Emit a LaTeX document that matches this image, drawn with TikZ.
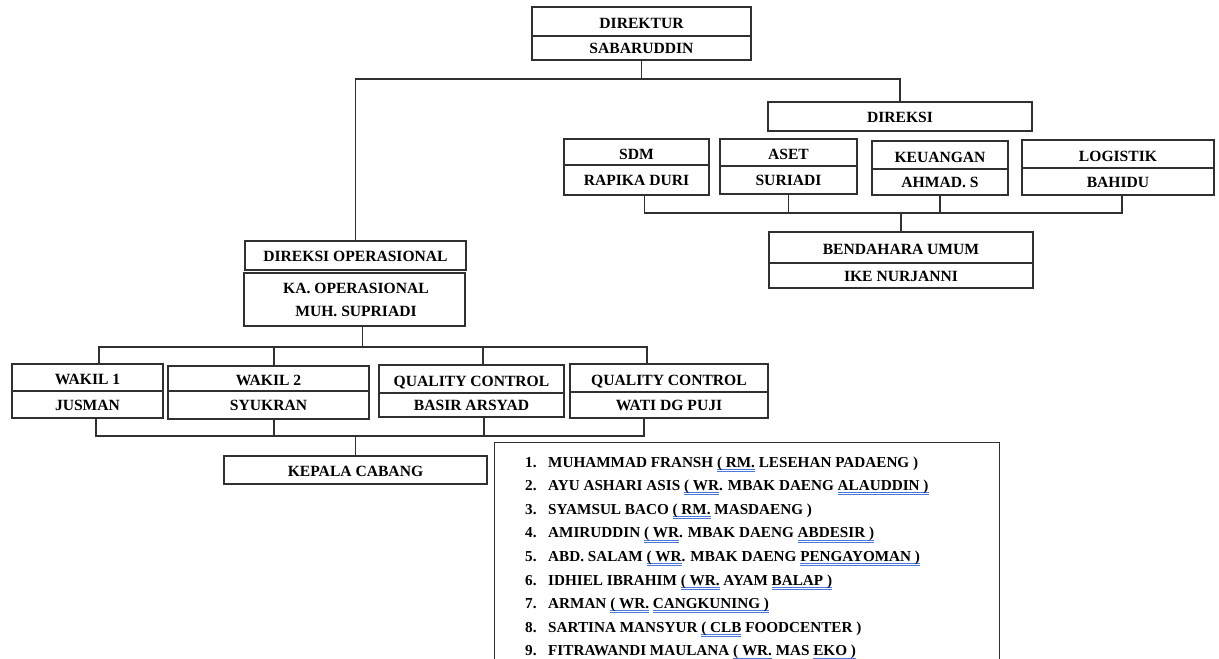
\documentclass[tikz,border=0pt]{standalone}
\usepackage{fontspec}
\setmainfont{Liberation Serif}
\definecolor{ln}{HTML}{303030}
\definecolor{sqblue}{HTML}{4A78D8}
\newsavebox\sqbox
\newcommand\sq[1]{\sbox\sqbox{#1}\rlap{\textcolor{sqblue}{\rule[-2.2pt]{\wd\sqbox}{0.5pt}}}\rlap{\textcolor{sqblue}{\rule[-4.2pt]{\wd\sqbox}{0.5pt}}}\usebox\sqbox}
\tikzset{
  box/.style={draw=ln, line width=1.2pt, inner sep=0pt, fill=white},
  lbl/.style={font=\fontsize{15.6}{18}\selectfont\bfseries, inner sep=0pt, text height=10.3pt, text depth=0pt},
  conn/.style={draw=ln, line width=1.2pt},
  itm/.style={font=\fontsize{15.2}{18}\selectfont\bfseries, inner sep=0pt, anchor=base west},
}
% #1 name, #2 x1, #3 y1, #4 x2, #5 y2, #6 ydiv, #7 top text, #8 bottom text
\newcommand\twobox[8]{%
  \node[box, minimum width={(#4-#2)*1pt}, minimum height={(#5-#3)*1pt}] (#1) at ({(#2+#4)/2},{(#3+#5)/2}) {};
  \draw[conn] (#1.west |- 0,#6) -- (#1.east |- 0,#6);
  \node[lbl] (#1-a) at ({(#2+#4)/2},{(#3+#6)/2+2}) {#7};
  \node[lbl] (#1-b) at ({(#2+#4)/2},{(#6+#5)/2+0.5}) {#8};
}
\newcommand\onebox[6]{%
  \node[box, minimum width={(#4-#2)*1pt}, minimum height={(#5-#3)*1pt}] (#1) at ({(#2+#4)/2},{(#3+#5)/2}) {};
  \node[lbl] (#1-a) at ({(#2+#4)/2},{(#3+#5)/2+1}) {#6};
}
\begin{document}
\begin{tikzpicture}[x=1pt,y=-1pt]
\useasboundingbox (0,0) rectangle (1219,659);

% top
\twobox{dir}{532}{7}{751}{60}{36}{DIREKTUR}{SABARUDDIN}
\onebox{direksi}{768}{102}{1032}{131}{DIREKSI}

% direksi row
\twobox{sdm}{564}{139}{709}{195}{165}{SDM}{RAPIKA DURI}
\twobox{aset}{720}{139}{857}{194}{166}{ASET}{SURIADI}
\twobox{keu}{872}{141}{1008}{195}{169}{KEUANGAN}{AHMAD. S}
\twobox{log}{1022}{140}{1214}{195}{168}{LOGISTIK}{BAHIDU}
\twobox{bend}{769}{232}{1033}{288}{263}{BENDAHARA UMUM}{IKE NURJANNI}

% operasional
\onebox{dirop}{245}{241}{466}{270}{DIREKSI OPERASIONAL}
\node[box, minimum width=221pt, minimum height=53pt] (ka) at (354.5,299.5) {};
\node[lbl] (ka-a) at (356,288) {KA. OPERASIONAL};
\node[lbl] (ka-b) at (356,311.5) {MUH. SUPRIADI};

\twobox{w1}{12}{364}{163}{418}{391}{WAKIL 1}{JUSMAN}
\twobox{w2}{168}{366}{369}{419}{391}{WAKIL 2}{SYUKRAN}
\twobox{qc1}{379}{365}{564}{417}{393}{QUALITY CONTROL}{BASIR ARSYAD}
\twobox{qc2}{570}{364}{768}{418}{392}{QUALITY CONTROL}{WATI DG PUJI}
\onebox{kc}{224}{456}{487}{484}{KEPALA CABANG}

% connectors
\coordinate (j1) at (dir.south |- 0,79);
\draw[conn] (dir.south) -- (j1);
\draw[conn] (dirop.north) |- (j1) -| (direksi.north);

\coordinate (j2) at (bend.north |- 0,213);
\draw[conn] ([xshift=8pt]sdm.south) |- (j2) -| ([xshift=4pt]log.south);
\draw[conn] (aset.south) -- (aset.south |- j2);
\draw[conn] (keu.south) -- (keu.south |- j2);
\draw[conn] (j2) -- (bend.north);

\coordinate (j3) at ([xshift=8pt]ka.south |- 0,347);
\draw[conn] ([xshift=8pt]ka.south) -- (j3);
\draw[conn] ([xshift=11.5pt]w1.north) |- (j3) -| ([xshift=-22pt]qc2.north);
\draw[conn] ([xshift=5.5pt]w2.north) -- ([xshift=5.5pt]w2.north |- j3);
\draw[conn] ([xshift=11.5pt]qc1.north) -- ([xshift=11.5pt]qc1.north |- j3);

\coordinate (j4) at (kc.north |- 0,436);
\draw[conn] ([xshift=8.5pt]w1.south) |- (j4) -| ([xshift=-25pt]qc2.south);
\draw[conn] ([xshift=5.5pt]w2.south) -- ([xshift=5.5pt]w2.south |- j4);
\draw[conn] ([xshift=12.5pt]qc1.south) -- ([xshift=12.5pt]qc1.south |- j4);
\draw[conn] (j4) -- (kc.north);

% list box
\begin{scope}
\clip (0,0) rectangle (1219,659);
\node[box, anchor=north west, minimum width=505pt, minimum height=240pt] (list) at (494,442) {};
\end{scope}

\foreach \i/\t in {
  1/{MUHAMMAD FRANSH \sq{( RM.} LESEHAN PADAENG )},
  2/{AYU ASHARI ASIS \sq{( WR}. MBAK DAENG \sq{ALAUDDIN )}},
  3/{SYAMSUL BACO \sq{( RM.} MASDAENG )},
  4/{AMIRUDDIN \sq{( WR}. MBAK DAENG \sq{ABDESIR )}},
  5/{ABD. SALAM \sq{( WR}. MBAK DAENG \sq{PENGAYOMAN )}},
  6/{IDHIEL IBRAHIM \sq{( WR.} AYAM \sq{BALAP )}},
  7/{ARMAN \sq{( WR.} \sq{CANGKUNING )}},
  8/{SARTINA MANSYUR \sq{( CLB} FOODCENTER )},
  9/{FITRAWANDI MAULANA \sq{( WR.} MAS \sq{EKO )}}
}{
  \node[itm] (num\i) at (525,{467+(\i-1)*23.6}) {\i.};
  \node[itm] (item\i) at (548,{467+(\i-1)*23.6}) {\t};
}
\end{tikzpicture}
\end{document}
